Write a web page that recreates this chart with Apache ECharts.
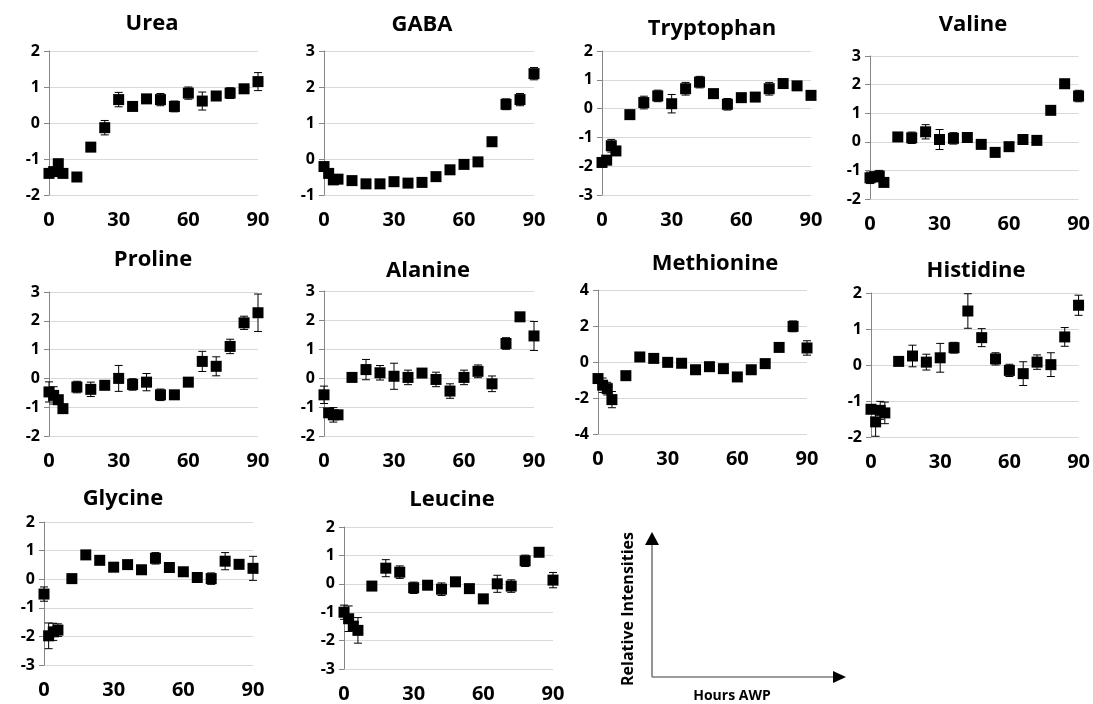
<!DOCTYPE html>
<html><head><meta charset="utf-8">
<script src="https://cdn.jsdelivr.net/npm/echarts@6/dist/echarts.min.js"></script>
<style>html,body{margin:0;padding:0;background:#fff}#c{width:1093px;height:704px}</style>
</head><body><div id="c"></div>
<script>
// ---- data ----
const hours = [0,2,4,6,12,18,24,30,36,42,48,54,60,66,72,78,84,90];
const xTicks = [0,30,60,90];
const names = ['Urea','GABA','Tryptophan','Valine','Proline','Alanine','Methionine','Histidine','Glycine','Leucine'];

const ureaMean = [-1.40,-1.35,-1.13,-1.40,-1.50,-0.67,-0.13,0.65,0.46,0.67,0.65,0.46,0.83,0.61,0.75,0.83,0.95,1.15];
const ureaErr  = [0.1,0.1,0.1,0.05,0.05,0,0.2,0.2,0,0,0.17,0.15,0.17,0.25,0,0.15,0,0.25];

const gabaMean = [-0.21,-0.40,-0.58,-0.56,-0.60,-0.69,-0.69,-0.63,-0.67,-0.65,-0.49,-0.30,-0.15,-0.08,0.48,1.52,1.65,2.37];
const gabaErr  = [0.1,0,0,0,0,0,0,0,0,0,0,0,0,0,0,0.15,0.17,0.17];

const trpMean = [-1.87,-1.79,-1.29,-1.47,-0.21,0.21,0.44,0.17,0.69,0.92,0.52,0.15,0.38,0.40,0.69,0.87,0.79,0.46];
const trpErr  = [0,0,0.22,0.15,0,0.22,0.2,0.32,0.22,0.2,0,0.2,0,0,0.22,0,0,0.15];

const valMean = [-1.26,-1.22,-1.20,-1.42,0.17,0.14,0.35,0.08,0.12,0.15,-0.09,-0.37,-0.17,0.08,0.05,1.10,2.03,1.60];
const valErr  = [0.2,0,0.2,0,0,0.2,0.25,0.35,0.2,0,0,0.15,0,0,0.15,0,0.15,0.2];

const proMean = [-0.47,-0.59,-0.74,-1.05,-0.30,-0.38,-0.24,0.00,-0.21,-0.13,-0.57,-0.57,-0.13,0.59,0.42,1.11,1.93,2.28];
const proErr  = [0.35,0.3,0,0,0.2,0.25,0,0.45,0.2,0.3,0.2,0,0,0.35,0.33,0.25,0.23,0.65];

const alaMean = [-0.58,-1.20,-1.27,-1.27,0.02,0.29,0.18,0.06,0.02,0.17,-0.05,-0.45,0.02,0.23,-0.20,1.19,2.11,1.45];
const alaErr  = [0.3,0,0.25,0,0,0.35,0.25,0.45,0.25,0,0.25,0.25,0.25,0.22,0.27,0.2,0,0.5];

const metMean = [-0.92,-1.29,-1.48,-2.09,-0.76,0.28,0.20,-0.02,-0.07,-0.43,-0.26,-0.37,-0.83,-0.43,-0.09,0.81,1.98,0.78];
const metErr  = [0,0.4,0.35,0.45,0,0,0,0,0,0,0,0,0,0,0,0,0.3,0.4];

const hisMean = [-1.23,-1.58,-1.26,-1.33,0.10,0.25,0.08,0.20,0.48,1.50,0.76,0.17,-0.15,-0.24,0.08,0.01,0.78,1.66];
const hisErr  = [0,0.4,0.25,0.3,0,0.3,0.22,0.4,0.15,0.48,0.25,0.17,0.17,0.33,0.2,0.33,0.26,0.28];

const glyMean = [-0.52,-1.98,-1.84,-1.78,0.02,0.85,0.66,0.42,0.51,0.33,0.73,0.41,0.26,0.06,0.02,0.63,0.52,0.38];
const glyErr  = [0.25,0.45,0.3,0.22,0,0,0,0,0,0,0.2,0,0,0,0.2,0.3,0.15,0.42];

const leuMean = [-1.00,-1.23,-1.49,-1.64,-0.08,0.55,0.41,-0.14,-0.05,-0.19,0.07,-0.17,-0.53,0.00,-0.08,0.81,1.11,0.13];
const leuErr  = [0.25,0.45,0,0.45,0,0.3,0.22,0.2,0,0.22,0,0,0,0.3,0.22,0.2,0,0.27];

const yMin  = [-2,-1,-3,-2,-2,-2,-4,-2,-3,-3];
const yMax  = [2,3,2,3,3,3,4,2,2,2];
const yStep = [1,1,1,1,1,1,2,1,1,1];

const means = [ureaMean,gabaMean,trpMean,valMean,proMean,alaMean,metMean,hisMean,glyMean,leuMean];
const errs  = [ureaErr,gabaErr,trpErr,valErr,proErr,alaErr,metErr,hisErr,glyErr,leuErr];

// ---- layout (pixels) ----
const gridPos = [
  [49,51,209,144],[324,51,210,144],[602,51,209,144],[870,56,210,143],
  [49,292,209,144],[324,291,210,145],[598,290,209,144],[871,293,209,144],
  [44,522,209,143],[344,527,209,144]
];
const titlePos = [
  [152,12.5],[422,14],[712,18],[973,13.5],
  [153,249],[428,260],[715,253],[976,260],
  [123,488],[452,489]
];

const FONT = '"Open Sans", sans-serif';
const grids=[], xAxes=[], yAxes=[], series=[], titles=[];
names.forEach((nm,i)=>{
  const g = gridPos[i];
  grids.push({left:g[0], top:g[1], width:g[2], height:g[3], containLabel:false});
  titles.push({text:nm, left:titlePos[i][0], top:titlePos[i][1], textAlign:'center', padding:0,
    textStyle:{fontFamily:FONT, fontWeight:'bold', fontSize:22, color:'#000'}});
  xAxes.push({type:'value', gridIndex:i, min:xTicks[0], max:xTicks[xTicks.length-1], interval:xTicks[1]-xTicks[0],
    axisLine:{show:false}, axisTick:{show:false}, splitLine:{show:false},
    axisLabel:{fontFamily:FONT, fontWeight:'bold', fontSize:20, color:'#000', margin:15}});
  yAxes.push({type:'value', gridIndex:i, min:yMin[i], max:yMax[i], interval:yStep[i],
    axisLine:{show:true, lineStyle:{color:'#868686', width:1}},
    axisTick:{show:true, length:5, lineStyle:{color:'#868686'}},
    splitLine:{show:true, lineStyle:{color:'#d9d9d9', width:1}},
    axisLabel:{fontFamily:FONT, fontWeight:'bold', fontSize:16, color:'#000', margin:9}});
  const data = hours.map((h,k)=>[h, means[i][k], errs[i][k]]);
  series.push({type:'custom', xAxisIndex:i, yAxisIndex:i, z:2, clip:false,
    encode:{x:0,y:1}, data:data,
    renderItem:function(params, api){
      const x=api.value(0), y=api.value(1), e=api.value(2);
      if(!e) return null;
      const t=api.coord([x,y+e]), b=api.coord([x,y-e]);
      const w=4, st={stroke:'#000', lineWidth:1};
      return {type:'group', children:[
        {type:'line', shape:{x1:t[0],y1:t[1],x2:b[0],y2:b[1]}, style:st},
        {type:'line', shape:{x1:t[0]-w,y1:t[1],x2:t[0]+w,y2:t[1]}, style:st},
        {type:'line', shape:{x1:b[0]-w,y1:b[1],x2:b[0]+w,y2:b[1]}, style:st}
      ]};
    }});
  series.push({type:'scatter', xAxisIndex:i, yAxisIndex:i, z:3, symbol:'rect', symbolSize:11,
    itemStyle:{color:'#000', opacity:1}, emphasis:{disabled:true}, data:hours.map((h,k)=>[h, means[i][k]])});
});

const chart = echarts.init(document.getElementById('c'), null, {renderer:'canvas'});
chart.setOption({
  animation:false,
  backgroundColor:'#fff',
  title:titles, grid:grids, xAxis:xAxes, yAxis:yAxes, series:series,
  graphic:[
    {type:'line', shape:{x1:652,y1:677,x2:652,y2:544}, style:{stroke:'#7a7a7a', lineWidth:1.6}},
    {type:'polygon', shape:{points:[[645,545],[659,545],[652,532]]}, style:{fill:'#000'}},
    {type:'line', shape:{x1:652,y1:677,x2:834,y2:677}, style:{stroke:'#7a7a7a', lineWidth:1.6}},
    {type:'polygon', shape:{points:[[833,671],[833,683],[846,677]]}, style:{fill:'#000'}},
    {type:'text', x:628, y:609, rotation:Math.PI/2,
      style:{text:'Relative Intensities', align:'center', verticalAlign:'middle',
        font:'bold 16px "Open Sans", sans-serif', fill:'#000'}},
    {type:'text', x:732, y:696,
      style:{text:'Hours AWP', align:'center', verticalAlign:'middle',
        font:'bold 14px "Open Sans", sans-serif', fill:'#000'}}
  ]
});
</script></body></html>
